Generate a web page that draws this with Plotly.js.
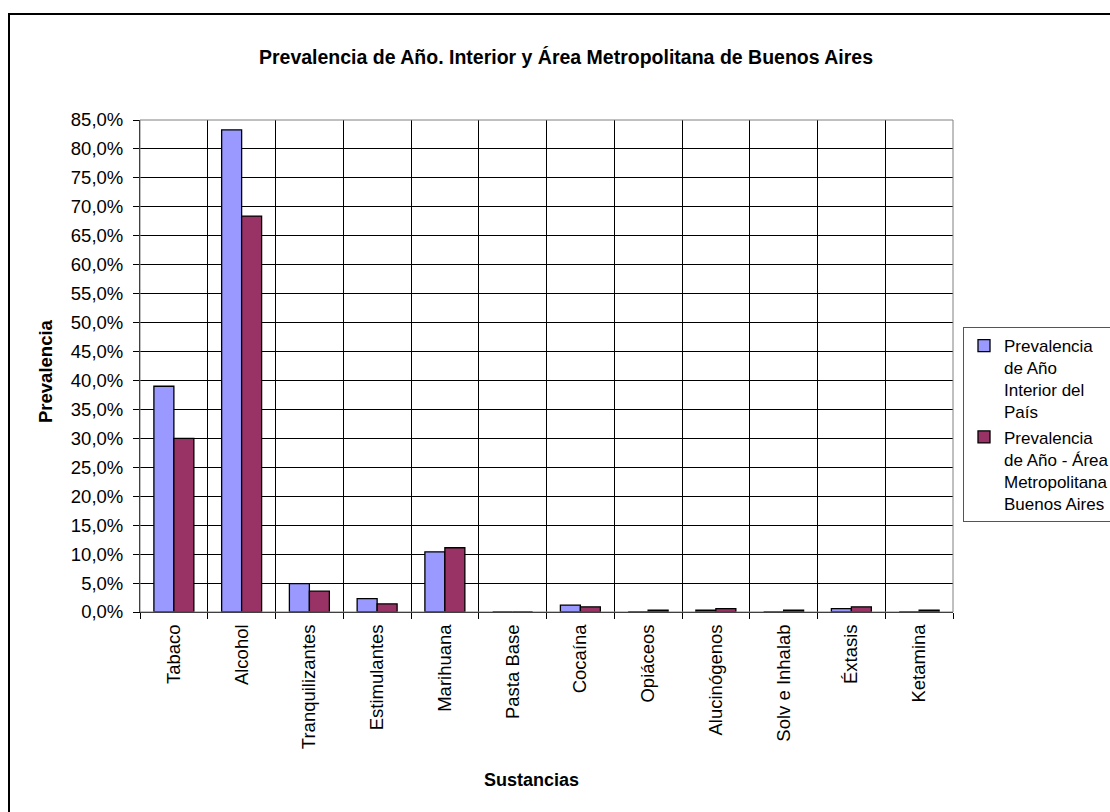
<!DOCTYPE html>
<html>
<head>
<meta charset="utf-8">
<script src="https://cdn.plot.ly/plotly-3.0.1.min.js"></script>
<style>html,body{margin:0;padding:0;background:#fff;}#chart{width:1110px;height:812px;}</style>
</head>
<body>
<div id="chart"></div>
<script>
const categories = ["Tabaco","Alcohol","Tranquilizantes","Estimulantes","Marihuana","Pasta Base","Cocaína","Opiáceos","Alucinógenos","Solv e Inhalab","Éxtasis","Ketamina"];
const interiorValues = [39.0, 83.3, 4.9, 2.3, 10.4, 0.0, 1.2, 0.0, 0.3, 0.0, 0.6, 0.0];
const ambaValues = [30.0, 68.4, 3.6, 1.4, 11.1, 0.0, 0.9, 0.3, 0.6, 0.3, 0.9, 0.3];
const seriesNames = ["Prevalencia<br>de Año<br>Interior del<br>País", "Prevalencia<br>de Año - Área<br>Metropolitana<br>Buenos Aires"];
const tickValues = [0,5,10,15,20,25,30,35,40,45,50,55,60,65,70,75,80,85];

const W = 1110, H = 812;
const L = 140, R = 953, T = 120, B = 612;
const pw = R - L, ph = B - T;
const px = v => (v - L) / pw;
const py = v => (B - v) / ph;

const font = "Liberation Sans, Arial, sans-serif";

const traces = [
  {type:"bar", x:categories, y:interiorValues, name:seriesNames[0],
   marker:{color:"#9999FF", line:{color:"#000", width:1.3}}},
  {type:"bar", x:categories, y:ambaValues, name:seriesNames[1],
   marker:{color:"#993366", line:{color:"#000", width:1.3}}}
];

const layout = {
  width: W, height: H,
  margin: {l: L, r: W - R, t: T, b: H - B, autoexpand: false},
  paper_bgcolor: "#fff", plot_bgcolor: "#fff",
  font: {family: font, size: 17, color: "#000"},
  separators: ",.",
  barmode: "group", bargap: 0.41, bargroupgap: 0,
  title: {text: "<b>Prevalencia de Año. Interior y Área Metropolitana de Buenos Aires</b>",
          font: {family: font, size: 19.5, color: "#000"},
          x: px(566), xref: "paper", xanchor: "center", y: 1 - 57 / H, yanchor: "middle"},
  xaxis: {type: "category", tickson: "boundaries", ticks: "outside", ticklen: 6, tickcolor: "#000",
          showgrid: true, gridcolor: "#000", gridwidth: 1,
          showline: true, linecolor: "#000", linewidth: 1,
          tickangle: -90, ticklabelstandoff: 4,
          tickfont: {family: font, size: 18.5, color: "#000"}},
  yaxis: {range: [0, 85], tickvals: tickValues, ticktext: tickValues.map(v => v.toFixed(1).replace(".", ",") + "%"),
          ticks: "outside", ticklen: 6, tickcolor: "#000",
          showgrid: true, gridcolor: "#000", gridwidth: 1,
          showline: true, linecolor: "#000", linewidth: 1, zeroline: false,
          ticklabelstandoff: 6,
          tickfont: {family: font, size: 18.5, color: "#000"}},
  showlegend: true,
  legend: {x: px(963), xanchor: "left", y: py(327), yanchor: "top",
           bordercolor: "#555", borderwidth: 1, bgcolor: "#fff", valign: "top",
           font: {family: font, size: 17, color: "#000"},
           tracegroupgap: 12, itemwidth: 30},
  shapes: [
    {type: "rect", xref: "paper", yref: "paper", x0: 0, x1: 1, y0: 0, y1: 1,
     line: {color: "#808080", width: 1}, layer: "above"},
    {type: "rect", xref: "paper", yref: "paper", x0: px(9), x1: px(1130), y0: py(14), y1: py(830),
     line: {color: "#000", width: 2}, fillcolor: "rgba(0,0,0,0)"}
  ],
  annotations: [
    {text: "<b>Prevalencia</b>", xref: "paper", yref: "paper", x: px(45), y: py(371),
     xanchor: "center", yanchor: "middle", textangle: -90, showarrow: false,
     font: {family: font, size: 18.5, color: "#000"}},
    {text: "<b>Sustancias</b>", xref: "paper", yref: "paper", x: px(531), y: py(780),
     xanchor: "center", yanchor: "middle", showarrow: false,
     font: {family: font, size: 18, color: "#000"}}
  ]
};

Plotly.newPlot("chart", traces, layout, {displayModeBar: false, staticPlot: true});
</script>
</body>
</html>
